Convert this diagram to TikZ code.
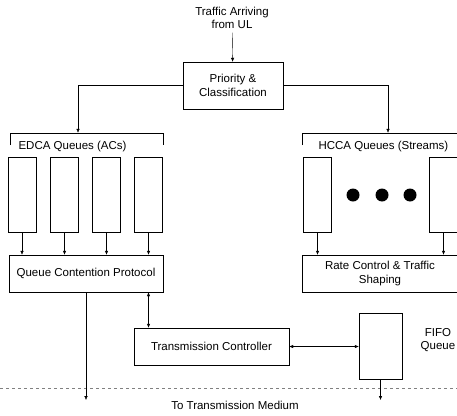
\documentclass[tikz,border=0pt]{standalone}
\usepackage{fontspec}
\setmainfont{Liberation Sans}
\usetikzlibrary{arrows.meta}
\begin{document}
\begin{tikzpicture}[x=1pt,y=-1pt,
font=\fontsize{11.5}{13.5}\selectfont,
% common options for boxes:
box/.style = {draw, thin, align=center, inner sep=0},
% common options for the queues:
queue/.style = {draw, thin, minimum width=28pt, minimum height=75pt, inner sep=0},
% common options for the group headers:
grouphead/.style = {minimum height=12pt, inner sep=0},
% common options for the arrows:
flow/.style = {-{Latex[length=4pt,width=3.5pt]}, thin},
twoway/.style = {{Latex[length=4pt,width=3.5pt]}-{Latex[length=4pt,width=3.5pt]}, thin},
bigdot/.style = {circle, fill, minimum size=13pt, inner sep=0}]
\useasboundingbox (0,0) rectangle (457,415);
\clip (0,0) rectangle (457,415);
\node[align=center] (src) at (232,18) {Traffic Arriving\\from UL};
\node[box, minimum width=100pt, minimum height=47pt] (prio) at (233,85.5) {Priority \&\\Classification};
\node[grouphead, minimum width=153pt] (edca) at (86.5,139) {};
\node[anchor=west] (edcalabel) at (15,147) {EDCA Queues (ACs)};
\node[grouphead, minimum width=156pt] (hcca) at (380,139) {};
\node[anchor=west] (hccalabel) at (315,147) {HCCA Queues (Streams)};
\node[queue] (q1) at (22,194.5) {};
\node[queue] (q2) at (64.5,194.5) {};
\node[queue] (q3) at (106.5,194.5) {};
\node[queue] (q4) at (148.5,194.5) {};
\node[queue] (h1) at (317.5,194.5) {};
\node[queue] (h2) at (443.5,194.5) {};
\node[bigdot] (d1) at (353,195) {};
\node[bigdot] (d2) at (382,195) {};
\node[bigdot] (d3) at (410,195) {};
\node[box, minimum width=154pt, minimum height=37pt] (qcp) at (86,273.5) {Queue Contention Protocol};
\node[box, minimum width=156pt, minimum height=37pt] (rate) at (380,273.5) {Rate Control \& Traffic\\Shaping};
\node[box, minimum width=155pt, minimum height=37pt] (ctrl) at (211.5,346.5) {Transmission Controller};
\node[box, minimum width=43pt, minimum height=66pt] (fifo) at (380.5,346) {};
\node[align=center] (fifolabel) at (438,340) {FIFO\\Queue};
\node (medium) at (235,405) {To Transmission Medium};
\coordinate (edge1) at (0,388);
\coordinate (edge2) at (457,388);
\coordinate (out1) at (86,400);
\coordinate (out2) at (380.5,400);
\draw (edca.south west) -- (edca.north west) -- (edca.north east) -- (edca.south east);
\draw (hcca.south west) -- (hcca.north west) -- (hcca.north east) -- (hcca.south east);
\draw[dashed, gray] (edge1) -- (edge2);
\draw[flow] (src) -- (prio);
\draw[flow] (prio.west) -| ([xshift=-8.5pt]edca.north);
\draw[flow] (prio.east) -| ([xshift=8pt]hcca.north);
\draw[flow] (q1) -- (q1 |- qcp.north);
\draw[flow] (q2) -- (q2 |- qcp.north);
\draw[flow] (q3) -- (q3 |- qcp.north);
\draw[flow] (q4) -- (q4 |- qcp.north);
\draw[flow] (h1) -- (h1 |- rate.north);
\draw[flow] (h2) -- (h2 |- rate.north);
\draw[twoway] (q4 |- qcp.south) -- (q4 |- ctrl.north);
\draw[twoway] (ctrl.east) -- (ctrl.east -| fifo.west);
\draw[flow] (qcp) -- (out1);
\draw[flow] (fifo) -- (out2);
\end{tikzpicture}
\end{document}
